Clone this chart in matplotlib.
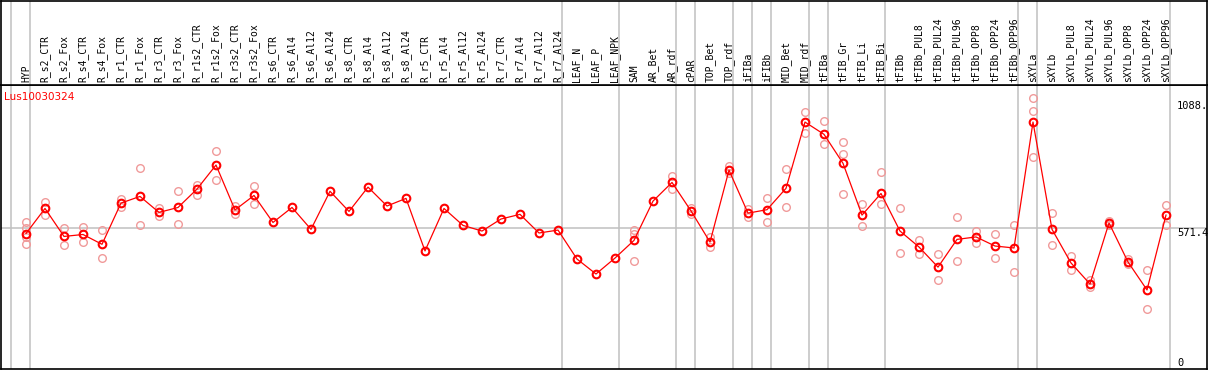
import numpy as np
import matplotlib
matplotlib.use('Agg')
import matplotlib.pyplot as plt

# sample names along the top
samples = ['HYP', 'R_s2_CTR', 'R_s2_Fox', 'R_s4_CTR', 'R_s4_Fox', 'R_r1_CTR', 'R_r1_Fox',
           'R_r3_CTR', 'R_r3_Fox', 'R_r1s2_CTR', 'R_r1s2_Fox', 'R_r3s2_CTR', 'R_r3s2_Fox',
           'R_s6_CTR', 'R_s6_Al4', 'R_s6_Al12', 'R_s6_Al24', 'R_s8_CTR', 'R_s8_Al4',
           'R_s8_Al12', 'R_s8_Al24', 'R_r5_CTR', 'R_r5_Al4', 'R_r5_Al12', 'R_r5_Al24',
           'R_r7_CTR', 'R_r7_Al4', 'R_r7_Al12', 'R_r7_Al24', 'LEAF_N', 'LEAF_P', 'LEAF_NPK',
           'SAM', 'AR_Bet', 'AR_rdf', 'cPAR', 'TOP_Bet', 'TOP_rdf', 'iFIBa', 'iFIBb',
           'MID_Bet', 'MID_rdf', 'tFIBa', 'tFIB_Gr', 'tFIB_Li', 'tFIB_Bi', 'tFIBb',
           'tFIBb_PUL8', 'tFIBb_PUL24', 'tFIBb_PUL96', 'tFIBb_OPP8', 'tFIBb_OPP24',
           'tFIBb_OPP96', 'sXYLa', 'sXYLb', 'sXYLb_PUL8', 'sXYLb_PUL24', 'sXYLb_PUL96',
           'sXYLb_OPP8', 'sXYLb_OPP24', 'sXYLb_OPP96']

# mean expression per sample
means = [550, 652, 538, 546, 506, 674, 701, 636, 656, 731, 829, 646, 705,
         595, 656, 567, 722, 640, 739, 662, 693, 479, 652, 583, 560,
         609, 628, 552, 564, 446, 385, 450,
         522, 682, 758, 642, 515, 808, 633, 647,
         734, 1004, 954, 836, 625, 713, 560,
         495, 413, 526, 536, 499, 491,
         1004, 567, 430, 344, 593, 434, 320, 625]

# replicate values (empty where none are drawn)
reps = [[595, 571, 534, 506], [678, 627], [571, 502], [576, 514], [563, 449],
        [692, 656], [815, 583], [654, 620], [722, 587], [747, 708], [885, 766],
        [662, 629], [743, 669],
        [], [], [], [], [], [], [], [], [], [], [], [], [], [], [], [], [], [], [],
        [564, 548, 438], [], [784, 731], [655, 628], [537, 494], [825, 795],
        [648, 618], [693, 595], [811, 656],
        [1047, 961], [1007, 913], [921, 874, 709], [669, 579], [799, 669], [652, 470],
        [522, 468], [465, 360], [617, 438], [560, 511], [548, 450], [583, 392],
        [1102, 1049, 860], [632, 503], [458, 400], [360, 331], [602, 583],
        [445, 424], [400, 242], [665, 583]]

# group separators: after these sample indices
group_ends = [-1, 0, 28, 31, 34, 35, 37, 38, 39, 41, 42, 45, 52, 53, 60]

title = 'Lus10030324'
ymax_lab = 1088.
ymid = 571.4

W, H = 1209, 370
fig = plt.figure(figsize=(W/100, H/100), dpi=100)
x0 = 26.0
dx = 19.0
xl = ((1 - x0)/dx, (1207 - x0)/dx)

ax = fig.add_axes([1/W, 1.5/H, 1206/W, (368.5-85)/H])
hd = fig.add_axes([1/W, (370-85)/H, 1206/W, (85-0.5)/H])

for a in (ax, hd):
    a.set_xlim(xl)
    a.set_xticks([])
    a.set_yticks([])
    for s in a.spines.values():
        s.set_linewidth(1.2)
        s.set_color('black')
    for g in group_ends:
        a.axvline(g + 0.2, color='#c0c0c0', lw=1.1, zorder=0)

hd.set_ylim(0, 1)
mono = 'DejaVu Sans Mono'
for i, s in enumerate(samples):
    hd.text(i, 0.03, s, rotation=90, ha='center', va='bottom',
            fontsize=7, family=mono)

ax.set_ylim(0, 1155)
ax.axhline(ymid, color='#c0c0c0', lw=1.1, zorder=0)

x = np.arange(len(samples))
for i, r in enumerate(reps):
    if r:
        ax.plot([i]*len(r), r, 'o', ms=5.5, mfc='none', mec='#f09a9a', mew=1.0,
                zorder=2)
ax.plot(x, means, '-', color='red', lw=0.9, zorder=3)
ax.plot(x, means, 'o', ms=5.5, mfc='none', mec='red', mew=1.5, zorder=4)

ax.text(3/dx + xl[0], 1155 - 7*4.07, title, color='red', fontsize=7.5,
        ha='left', va='top')
xr = (1177 - x0)/dx
ax.text(xr, ymax_lab, '1088.', fontsize=7.5, family=mono, va='top', ha='left')
ax.text(xr, ymid, '571.4', fontsize=7.5, family=mono, va='top', ha='left')
ax.text(xr, 3, '0', fontsize=7.5, family=mono, va='bottom', ha='left')

fig.savefig('out.png', dpi=100)
plt.close()
